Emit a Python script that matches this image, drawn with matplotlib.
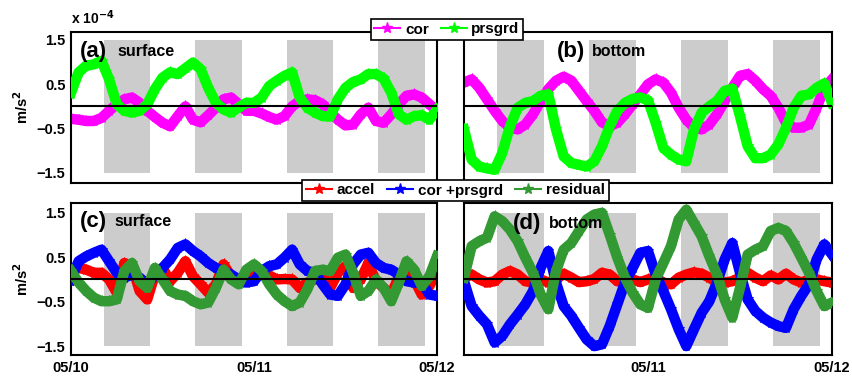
import numpy as np
import matplotlib
matplotlib.use("Agg")
import matplotlib.pyplot as plt
from matplotlib.lines import Line2D

plt.rcParams["font.family"] = ["Liberation Sans", "DejaVu Sans"]
plt.rcParams["font.weight"] = "bold"
plt.rcParams["mathtext.default"] = "bf"

# ---------------------------------------------------------------------------
# Data (units of 1e-4 m/s^2), hourly from 05/10 00:00 to 05/12 00:00
# ---------------------------------------------------------------------------
hours = np.arange(49)

cor_surf = [-0.28, -0.30, -0.33, -0.33, -0.26, -0.10, 0.05, 0.16, 0.20, 0.08,
            -0.10, -0.24, -0.37, -0.45, -0.22, 0.00, -0.30, -0.36, -0.20, -0.03,
            0.16, 0.20, 0.05, -0.10, -0.10, -0.16, -0.24, -0.30, -0.22, 0.00,
            0.12, 0.16, 0.14, 0.05, -0.14, -0.30, -0.43, -0.41, -0.18, -0.03,
            -0.33, -0.37, -0.18, 0.05, 0.24, 0.27, 0.20, 0.05, -0.10]
prs_surf = [0.31, 0.77, 0.92, 0.95, 1.03, 0.61, 0.05, -0.10, -0.14, -0.10,
            0.05, 0.39, 0.65, 0.77, 0.73, 0.86, 0.99, 0.84, 0.42, 0.08,
            -0.07, -0.14, -0.02, 0.08, 0.08, 0.20, 0.46, 0.58, 0.69, 0.77,
            0.20, -0.03, -0.14, -0.22, -0.23, 0.16, 0.42, 0.55, 0.61, 0.73,
            0.73, 0.63, 0.31, -0.18, -0.30, -0.22, -0.20, -0.30, -0.07]

cor_bot = [0.54, 0.61, 0.42, 0.16, -0.10, -0.33, -0.48, -0.52, -0.41, -0.18,
           0.12, 0.39, 0.58, 0.67, 0.58, 0.35, 0.12, -0.10, -0.36, -0.45,
           -0.37, -0.18, 0.05, 0.27, 0.50, 0.61, 0.54, 0.31, -0.03, -0.30,
           -0.48, -0.52, -0.41, -0.18, 0.12, 0.42, 0.69, 0.73, 0.58, 0.39,
           0.24, -0.03, -0.37, -0.48, -0.48, -0.41, -0.03, 0.42, 0.61]
prs_bot = [-0.52, -1.20, -1.36, -1.40, -1.43, -1.05, -0.45, -0.03, 0.08, 0.12,
           0.24, 0.27, -0.52, -1.13, -1.28, -1.32, -1.36, -1.24, -0.90, -0.45,
           -0.10, 0.08, 0.17, 0.20, 0.14, -0.37, -0.94, -1.09, -1.20, -1.24,
           -0.52, -0.14, 0.00, 0.12, 0.35, 0.40, -0.22, -0.90, -1.17, -1.17,
           -1.09, -0.86, -0.48, -0.03, 0.24, 0.27, 0.42, 0.52, 0.08]

accel_surf = [0.19, 0.26, 0.22, 0.15, 0.15, 0.00, -0.30, 0.37, 0.30, -0.26,
              -0.45, 0.11, 0.26, -0.04, 0.15, 0.41, 0.07, -0.11, -0.30, -0.11,
              0.34, 0.07, 0.00, 0.07, 0.15, 0.11, 0.09, 0.00, 0.01, 0.00,
              -0.19, -0.07, 0.00, 0.11, -0.19, 0.15, 0.30, -0.19, 0.00, 0.37,
              -0.04, -0.19, -0.34, 0.07, 0.19, 0.00, -0.34, -0.15, 0.19]
sum_surf = [0.00, 0.41, 0.52, 0.60, 0.67, 0.41, 0.15, 0.04, 0.11, 0.04,
            -0.11, 0.11, 0.26, 0.45, 0.71, 0.79, 0.64, 0.52, 0.37, 0.26,
            0.19, 0.11, 0.00, -0.07, -0.04, 0.19, 0.30, 0.34, 0.49, 0.67,
            0.34, 0.19, 0.15, -0.11, -0.34, -0.37, -0.11, 0.34, 0.56, 0.60,
            0.37, 0.26, 0.22, 0.11, -0.04, -0.07, -0.07, -0.34, -0.37]
resid_surf = [0.19, -0.07, -0.26, -0.41, -0.49, -0.49, -0.45, 0.19, 0.37, -0.04,
              -0.19, 0.26, 0.00, -0.26, -0.34, -0.37, -0.49, -0.56, -0.52, -0.19,
              0.22, 0.00, -0.11, 0.22, 0.34, 0.19, -0.11, -0.34, -0.49, -0.60,
              -0.52, -0.22, 0.19, 0.22, 0.19, 0.49, 0.56, 0.15, -0.37, -0.26,
              0.00, -0.19, -0.49, -0.07, 0.41, 0.22, -0.15, 0.07, 0.52]

accel_bot = [0.04, 0.11, 0.00, -0.07, -0.04, 0.11, 0.19, 0.11, -0.04, -0.07,
             0.00, -0.07, 0.00, 0.13, 0.04, -0.06, -0.04, 0.01, 0.15, 0.11,
             -0.04, -0.07, 0.00, -0.06, 0.00, 0.04, -0.07, -0.11, 0.04, 0.11,
             0.16, 0.13, 0.04, -0.07, -0.07, -0.04, 0.04, 0.15, 0.04, -0.04,
             0.09, 0.00, 0.13, 0.00, -0.07, 0.00, 0.00, -0.04, -0.07]
sum_bot = [-0.04, -0.60, -0.82, -1.01, -1.42, -1.27, -1.01, -0.79, -0.56, -0.26,
           0.26, 0.64, -0.07, -0.60, -0.82, -1.09, -1.35, -1.50, -1.46, -1.05,
           -0.56, -0.07, 0.26, 0.60, 0.64, 0.11, -0.26, -0.67, -1.12, -1.50,
           -1.12, -0.75, -0.49, -0.07, 0.45, 0.82, 0.15, -0.45, -0.71, -0.86,
           -0.97, -1.05, -1.09, -0.67, -0.37, -0.11, 0.45, 0.79, 0.56]
resid_bot = [0.04, 0.75, 0.86, 0.94, 1.42, 1.31, 1.12, 0.86, 0.49, 0.15,
             -0.34, -0.67, 0.19, 0.67, 0.82, 1.09, 1.35, 1.46, 1.50, 1.01,
             0.49, 0.04, -0.30, -0.56, -0.64, 0.00, 0.37, 0.75, 1.35, 1.57,
             1.27, 0.97, 0.52, 0.11, -0.45, -0.86, -0.19, 0.56, 0.67, 0.75,
             1.09, 1.16, 1.09, 0.82, 0.49, 0.15, -0.26, -0.60, -0.52]

# shaded periods (hours since 05/10 00:00)
shade_start = [4.3, 16.3, 28.3, 40.3]
shade_len = 6.1

yticks = [-1.5, -0.5, 0.5, 1.5]
ytick_labels = ["\u22121.5", "\u22120.5", "0.5", "1.5"]
xticks = [0, 24, 48]
xtick_labels = ["05/10", "05/11", "05/12"]

C_COR = "#ff00ff"
C_PRS = "#00ff00"
C_ACC = "#ff0000"
C_SUM = "#0000ff"
C_RES = "#339933"

# ---------------------------------------------------------------------------
# Figure
# ---------------------------------------------------------------------------
fig = plt.figure(figsize=(8.52, 3.81), dpi=100)

W, H = 852.0, 381.0
def box(x0, x1, y0, y1):
    return [x0 / W, 1 - y1 / H, (x1 - x0) / W, (y1 - y0) / H]

ax_a = fig.add_axes(box(71, 437, 32, 183))
ax_b = fig.add_axes(box(464, 832, 32, 183))
ax_c = fig.add_axes(box(71, 437, 203, 355))
ax_d = fig.add_axes(box(464, 832, 203, 355))


def style(ax, ylim, left, bottom):
    for s in shade_start:
        ax.fill_between([s, s + shade_len], -1.5, 1.5, color="#cccccc",
                        linewidth=0, zorder=0)
    ax.axhline(0, color="black", linewidth=1.5, zorder=5)
    ax.set_xlim(0, 48)
    ax.set_ylim(*ylim)
    ax.set_yticks(yticks)
    ax.tick_params(direction="in", length=0, labelsize=10.5, pad=4)
    if left:
        ax.set_yticklabels(ytick_labels, fontweight="bold")
        ax.set_ylabel(r"m/s$^{\mathbf{2}}$", fontsize=10.5, fontweight="bold",
                      labelpad=4)
    else:
        ax.set_yticklabels([])
    ax.set_xticks(xticks)
    if bottom:
        labels = xtick_labels if left else ["", "05/11", "05/12"]
        ax.set_xticklabels(labels, fontweight="bold")
    else:
        ax.set_xticklabels([])
    for sp in ax.spines.values():
        sp.set_linewidth(1.5)


def curve(ax, y, color, z):
    ax.plot(hours, y, color=color, linewidth=7.5, marker="*", markersize=8,
            markeredgewidth=0.6, solid_joinstyle="round", zorder=z)


def panel_label(ax, tag, word, x_tag, x_word, y):
    ax.text(x_tag, y, tag, transform=ax.transAxes, fontsize=16,
            fontweight="bold", va="center", zorder=10)
    ax.text(x_word, y, word, transform=ax.transAxes, fontsize=11.5,
            fontweight="bold", va="center", zorder=10)


top_ylim = (-1.73, 1.68)
bot_ylim = (-1.70, 1.72)

style(ax_a, top_ylim, True, False)
curve(ax_a, cor_surf, C_COR, 2)
curve(ax_a, prs_surf, C_PRS, 3)
panel_label(ax_a, "(a)", "surface", 0.025, 0.128, 0.868)
ax_a.text(0.0, 1.03, r"x 10$^{\mathbf{-4}}$", transform=ax_a.transAxes,
          fontsize=10, fontweight="bold", va="bottom")

style(ax_b, top_ylim, False, False)
curve(ax_b, cor_bot, C_COR, 2)
curve(ax_b, prs_bot, C_PRS, 3)
panel_label(ax_b, "(b)", "bottom", 0.253, 0.348, 0.868)

style(ax_c, bot_ylim, True, True)
curve(ax_c, accel_surf, C_ACC, 2)
curve(ax_c, sum_surf, C_SUM, 3)
curve(ax_c, resid_surf, C_RES, 4)
panel_label(ax_c, "(c)", "surface", 0.025, 0.119, 0.877)

style(ax_d, bot_ylim, False, True)
curve(ax_d, accel_bot, C_ACC, 2)
curve(ax_d, sum_bot, C_SUM, 3)
curve(ax_d, resid_bot, C_RES, 4)
panel_label(ax_d, "(d)", "bottom", 0.134, 0.231, 0.866)


def handle(color):
    return Line2D([], [], color=color, linewidth=1.5, marker="*",
                  markersize=8)


leg_kw = dict(loc="center", ncol=3, frameon=True, fancybox=False,
              framealpha=1, edgecolor="black", handlelength=1.7,
              handletextpad=0.3, columnspacing=0.8, borderpad=0.25,
              prop={"weight": "bold", "size": 11})
leg1 = fig.legend([handle(C_COR), handle(C_PRS)], ["cor", "prsgrd"],
                  bbox_to_anchor=(447 / W, 1 - 29.5 / H), **leg_kw)
leg1.get_frame().set_linewidth(1.2)
leg2 = fig.legend([handle(C_ACC), handle(C_SUM), handle(C_RES)],
                  ["accel", "cor +prsgrd", "residual"],
                  bbox_to_anchor=(455.5 / W, 1 - 190.5 / H), **leg_kw)
leg2.get_frame().set_linewidth(1.2)

fig.savefig("out.png", dpi=100)
